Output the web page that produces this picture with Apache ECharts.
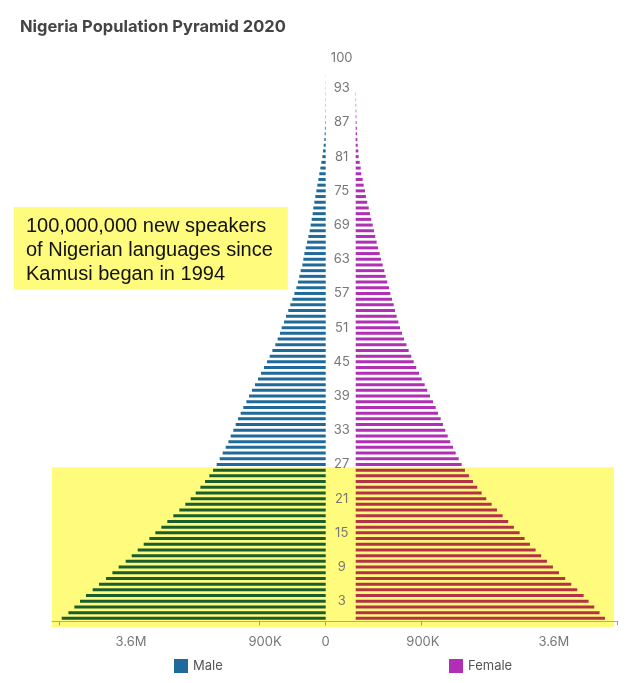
<!DOCTYPE html>
<html><head><meta charset="utf-8">
<script src="https://cdn.jsdelivr.net/npm/echarts@6/dist/echarts.min.js"></script>
<style>html,body{margin:0;padding:0;background:#fff}#c{width:630px;height:683px}</style>
</head><body><div id="c"></div>
<script>
// ages 0..99 (categories)
const ages = [];
for (let a = 0; a < 100; a++) ages.push(String(a));

// Male population by single age (0..99)
const maleValues = [
 3564000,3474000,3393000,3317000,3236000,3146000,3060000,2966000,2880000,2795000,
 2700000,2619000,2538000,2457000,2381000,2300000,2219000,2138000,2057000,1976000,
 1895000,1823000,1755000,1692000,1629000,1571000,1521000,1472000,1431000,1391000,
 1350000,1314000,1283000,1247000,1215000,1184000,1148000,1112000,1071000,1035000,
 995000,954000,914000,873000,833000,792000,756000,720000,680000,648000,
 617000,594000,563000,536000,505000,478000,450000,423000,396000,374000,
 356000,338000,315000,302000,288000,270000,252000,234000,216000,203000,
 189000,176000,167000,153000,140000,126000,113000,99000,86000,72000,
 59000,45000,36000,27000,18000,14000,10000,6000,5000,4000,
 4000,3000,3000,2000,2000,1000,0,0,0,0
];
// Female population by single age (0..99)
const femaleValues = [
 3425000,3351000,3278000,3200000,3132000,3044000,2962000,2879000,2793000,2710000,
 2628000,2549000,2472000,2394000,2321000,2253000,2174000,2096000,2019000,1941000,
 1868000,1794000,1731000,1670000,1611000,1556000,1501000,1456000,1415000,1374000,
 1337000,1299000,1264000,1231000,1199000,1168000,1131000,1099000,1062000,1021000,
 984000,948000,907000,870000,832000,797000,764000,728000,697000,664000,
 636000,609000,586000,563000,540000,522000,499000,476000,457000,434000,
 412000,393000,371000,348000,330000,306000,288000,269000,251000,234000,
 214000,196000,179000,159000,141000,128000,110000,96000,77000,69000,
 55000,41000,36000,27000,23000,18000,16000,12000,10000,8000,
 6000,5000,4000,0,0,0,0,0,0,0
];
// ages born since 1994 (highlighted)
const highlightMaxAge = 26;

// tick values and labels
const tickValues = [0, 900000, 3600000];
const leftLabelValues = [0, 819000, 2628000];
const rightLabelValues = [924000, 2723000];
const tickLabelTexts = ['0', '900K', '3.6M'];
const rightLabelTexts = ['900K', '3.6M'];

const C = {
  male: '#1f6a9a', maleHi: '#1b5e2e',
  female: '#b02fb5', femaleHi: '#b33245',
  yellow: '#fffb7d', label: '#777', axis: '#aaa'
};

const maleData = maleValues.map((v, i) => i <= highlightMaxAge ? {value: v, itemStyle: {color: C.maleHi}} : v);
const femaleData = femaleValues.map((v, i) => i <= highlightMaxAge ? {value: v, itemStyle: {color: C.femaleHi}} : v);

const labelFont = {color: C.label, fontSize: 13, fontFamily: 'Inter, "Noto Sans", sans-serif'};

const option = {
  animation: false,
  title: [
    {text: 'Nigeria Population Pyramid 2020', left: 20, top: 19, padding: 0,
     textStyle: {fontFamily: 'Inter, "Noto Sans", sans-serif', fontSize: 16.5, fontWeight: 'bold', color: '#444'}},
    {text: '100,000,000 new speakers\nof Nigerian languages since\nKamusi began in 1994', left: 14, top: 207,
     padding: [7, 15, 3, 12], backgroundColor: C.yellow,
     textStyle: {fontFamily: '"Liberation Sans", Arial, sans-serif', fontSize: 20, fontWeight: 'normal', color: '#111', lineHeight: 24.2}}
  ],
  legend: [
    {data: ['Male'], left: 169, top: 654, icon: 'rect', itemWidth: 14, itemHeight: 14, textStyle: {color: '#555', fontSize: 13, fontFamily: 'Inter, sans-serif'}},
    {data: ['Female'], left: 444, top: 654, icon: 'rect', itemWidth: 14, itemHeight: 14, textStyle: {color: '#555', fontSize: 13, fontFamily: 'Inter, sans-serif'}}
  ],
  grid: [
    {left: 52, right: 304.3, top: 51.2, bottom: 61.8},
    {left: 325.7, right: 12.3, top: 51.2, bottom: 61.8}
  ],
  xAxis: [
    {type: 'value', gridIndex: 0, inverse: true, min: 0, max: 3695000,
     splitLine: {show: false},
     axisLine: {show: true, lineStyle: {color: C.axis}},
     axisTick: {show: true, customValues: tickValues, length: 4, lineStyle: {color: '#999'}},
     axisLabel: Object.assign({customValues: leftLabelValues, margin: 14,
       formatter: v => tickLabelTexts[leftLabelValues.indexOf(v)]}, labelFont)},
    {type: 'value', gridIndex: 1, min: -412000, max: 3600000,
     splitLine: {show: false},
     axisLine: {show: true, lineStyle: {color: C.axis}},
     axisTick: {show: true, customValues: [tickValues[1], tickValues[2]], length: 4, lineStyle: {color: '#999'}},
     axisLabel: Object.assign({customValues: rightLabelValues, margin: 14,
       formatter: v => rightLabelTexts[rightLabelValues.indexOf(v)]}, labelFont)}
  ],
  yAxis: [
    {type: 'category', gridIndex: 0, data: ages, position: 'right',
     axisLine: {show: false}, axisTick: {show: false}, splitLine: {show: false},
     axisLabel: Object.assign({interval: (i) => i % 6 === 3 && i < 99, align: 'center', margin: 16}, labelFont),
     name: '100', nameLocation: 'end', nameGap: -7,
     nameTextStyle: Object.assign({align: 'center', verticalAlign: 'middle', padding: [0, 0, 0, 32]}, labelFont)},
    {type: 'category', gridIndex: 1, data: ages, show: false}
  ],
  series: [
    {name: 'Male', type: 'bar', xAxisIndex: 0, yAxisIndex: 0, barWidth: 3, itemStyle: {color: C.male}, data: maleData},
    {name: 'Female', type: 'bar', xAxisIndex: 1, yAxisIndex: 1, barWidth: 3, itemStyle: {color: C.female}, data: femaleData}
  ]
};

const chart = echarts.init(document.getElementById('c'), null, {renderer: 'canvas'});
chart.setOption(option);

// yellow highlight behind the ages born since 1994, derived from the axes
const yHi = chart.convertToPixel({yAxisIndex: 0}, highlightMaxAge);
const yNext = chart.convertToPixel({yAxisIndex: 0}, highlightMaxAge - 1);
const band = Math.abs(yNext - yHi);
const yBase = chart.convertToPixel({yAxisIndex: 0}, 0) + band / 2;
const xL = chart.convertToPixel({xAxisIndex: 0}, 3695000);
const xR = chart.convertToPixel({xAxisIndex: 1}, 3550000);
const topY = yHi - band / 2;
chart.setOption({graphic: [{type: 'rect', z: -1, silent: true,
  shape: {x: xL, y: topY, width: xR - xL, height: yBase + 6 - topY},
  style: {fill: C.yellow}}]});
</script>
</body></html>
